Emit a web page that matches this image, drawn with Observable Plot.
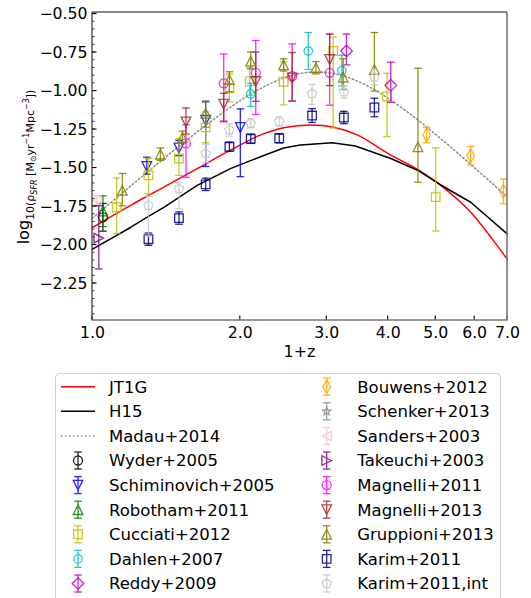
<!DOCTYPE html>
<html><head><meta charset="utf-8">
<script src="https://cdn.jsdelivr.net/npm/d3@7"></script>
<script src="https://cdn.jsdelivr.net/npm/@observablehq/plot@0.6"></script>
<style>
body{margin:0;background:#fff;font-family:"DejaVu Sans",sans-serif;}
#wrap{position:relative;width:531px;height:598px;overflow:hidden;background:#fff;}
#wrap svg{display:block;}
</style></head><body><div id="wrap"></div>
<script>
// ---- axis ticks ----
const xTicks = [1, 2, 3, 4, 5, 6, 7];
const yTicks = [-2.25, -2.0, -1.75, -1.5, -1.25, -1.0, -0.75, -0.5];

// ---- model curves: [1+z, log10 SFRD] ----
const jt1g = [[1.0,-1.886],[1.2,-1.739],[1.4,-1.622],[1.634,-1.504],[1.909,-1.384],[2.2,-1.285],[2.45,-1.238],[2.78,-1.22],[3.1,-1.235],[3.46,-1.285],[4.05,-1.416],[4.6,-1.51],[5.12,-1.613],[5.89,-1.787],[7.0,-2.095]];
const h15 = [[1.0,-2.027],[1.195,-1.886],[1.29,-1.82],[1.397,-1.755],[1.634,-1.613],[1.909,-1.504],[2.198,-1.427],[2.45,-1.37],[2.65,-1.35],[3.08,-1.336],[3.43,-1.357],[4.05,-1.438],[4.59,-1.514],[5.12,-1.61],[5.89,-1.722],[7.0,-1.929]];
const madau = [[1.0,-1.825],[1.25,-1.566],[1.5,-1.359],[1.75,-1.193],[2.0,-1.062],[2.25,-0.967],[2.5,-0.906],[2.75,-0.879],[3.0,-0.880],[3.25,-0.903],[3.5,-0.942],[3.75,-0.991],[4.0,-1.047],[4.5,-1.164],[5.0,-1.282],[5.5,-1.394],[6.0,-1.499],[6.5,-1.597],[7.0,-1.688]];

// ---- observations: [1+z, log10 SFRD, err down, err up] ----
const wyder = [[1.05,-1.82,0.09,0.09]];
const schiminovich = [[1.29,-1.49,0.05,0.06],[1.50,-1.37,0.05,0.05],[1.70,-1.19,0.30,0.12],[2.00,-1.236,0.32,0.12]];
const robotham = [[1.05,-1.78,0.10,0.10]];
const cucciati = [[1.12,-1.755,0.17,0.19],[1.30,-1.547,0.12,0.11],[1.50,-1.438,0.11,0.13],[1.70,-1.236,0.10,0.10],[1.90,-0.98,0.09,0.09],[2.09,-0.937,0.09,0.09],[2.45,-0.94,0.15,0.13],[3.09,-0.74,0.50,0.09],[3.98,-1.035,0.26,0.15],[5.0,-1.689,0.22,0.32]];
const dahlen = [[2.10,-1.02,0.08,0.07],[2.75,-0.74,0.12,0.12],[3.22,-0.867,0.10,0.10]];
const reddy = [[3.29,-0.74,0.09,0.11],[4.05,-0.963,0.11,0.15]];
const bouwens = [[4.79,-1.285,0.05,0.05],[5.89,-1.42,0.06,0.06],[6.87,-1.652,0.08,0.08]];
const schenker = [];
const sanders = [[1.02,-1.71,0.03,0.03]];
const takeuchi = [[1.03,-1.955,0.20,0.21]];
const magnelli11 = [[1.55,-1.34,0.22,0.12],[1.85,-0.95,0.25,0.19],[2.15,-0.882,0.27,0.21],[2.55,-0.904,0.16,0.21],[3.04,-0.882,0.21,0.25]];
const magnelli13 = [[1.55,-1.20,0.08,0.09],[1.85,-1.085,0.11,0.07],[2.15,-0.937,0.13,0.19],[2.55,-0.915,0.15,0.165],[3.04,-0.795,0.17,0.165]];
const gruppioni = [[1.15,-1.645,0.10,0.11],[1.375,-1.41,0.04,0.04],[1.525,-1.30,0.04,0.04],[1.70,-1.144,0.09,0.08],[1.90,-0.925,0.08,0.05],[2.10,-0.806,0.05,0.06],[2.45,-0.83,0.04,0.04],[2.85,-0.849,0.04,0.04],[3.24,-0.91,0.08,0.12],[3.75,-0.86,0.14,0.24],[4.6,-1.362,0.23,0.51]];
const karim = [[1.30,-1.962,0.04,0.04],[1.50,-1.825,0.04,0.04],[1.70,-1.606,0.04,0.04],[1.90,-1.362,0.03,0.03],[2.10,-1.31,0.03,0.03],[2.40,-1.307,0.03,0.03],[2.80,-1.159,0.045,0.045],[3.25,-1.172,0.04,0.04],[3.75,-1.107,0.06,0.06]];
const karimInt = [[1.30,-1.743,0.20,0.06],[1.50,-1.635,0.13,0.04],[1.70,-1.406,0.06,0.06],[1.90,-1.253,0.04,0.04],[2.10,-1.209,0.03,0.03],[2.40,-1.198,0.03,0.03],[2.80,-1.017,0.07,0.06],[3.25,-1.006,0.04,0.04],[3.75,-0.91,0.05,0.05]];

// ---- marker shapes ----
function poly(pts) {
  return {draw(ctx, size) {
    const r = Math.sqrt(size / Math.PI);
    ctx.moveTo(pts[0][0] * r, pts[0][1] * r);
    for (let i = 1; i < pts.length; i++) ctx.lineTo(pts[i][0] * r, pts[i][1] * r);
    ctx.closePath();
  }};
}
const pentPts = d3.range(5).map(i => [Math.sin(i * 2 * Math.PI / 5), -Math.cos(i * 2 * Math.PI / 5)]);
const starPts = d3.range(10).map(i => { const k = i % 2 ? 0.45 : 1; return [k * Math.sin(i * Math.PI / 5), -k * Math.cos(i * Math.PI / 5)]; });
const SYM = {
  circle: {draw(ctx, size) { const r = Math.sqrt(size / Math.PI); ctx.moveTo(r, 0); ctx.arc(0, 0, r, 0, 2 * Math.PI); }},
  square: poly([[-1,-1],[1,-1],[1,1],[-1,1]]),
  up: poly([[0,-1],[1,1],[-1,1]]),
  down: poly([[0,1],[1,-1],[-1,-1]]),
  left: poly([[-1,0],[1,-1],[1,1]]),
  right: poly([[1,0],[-1,-1],[-1,1]]),
  diamond: poly([[0,-1],[1,0],[0,1],[-1,0]]),
  thin: poly([[0,-1],[0.55,0],[0,1],[-0.55,0]]),
  pentagon: poly(pentPts),
  star: poly(starPts),
  cap: {draw(ctx, size) { const r = Math.sqrt(size / Math.PI); ctx.moveTo(-r, 0); ctx.lineTo(r, 0); }}
};

const series = [
  {name: "Wyder+2005", data: wyder, color: "#000000", sym: "circle", r: 4.5},
  {name: "Schiminovich+2005", data: schiminovich, color: "#0000ff", sym: "down", r: 4.8},
  {name: "Robotham+2011", data: robotham, color: "#008000", sym: "up", r: 4.8},
  {name: "Cucciati+2012", data: cucciati, color: "#bfbf00", sym: "square", r: 4.3},
  {name: "Dahlen+2007", data: dahlen, color: "#00bfbf", sym: "circle", r: 4.2},
  {name: "Reddy+2009", data: reddy, color: "#bf00bf", sym: "diamond", r: 5.8},
  {name: "Bouwens+2012", data: bouwens, color: "#ffa500", sym: "thin", r: 7},
  {name: "Schenker+2013", data: schenker, color: "#8c8c8c", sym: "star", r: 4.2},
  {name: "Sanders+2003", data: sanders, color: "#ffc0cb", sym: "left", r: 4.5},
  {name: "Takeuchi+2003", data: takeuchi, color: "#800080", sym: "right", r: 4.8},
  {name: "Magnelli+2011", data: magnelli11, color: "#ff00ff", sym: "circle", r: 4.5},
  {name: "Magnelli+2013", data: magnelli13, color: "#a52a2a", sym: "down", r: 4.8},
  {name: "Gruppioni+2013", data: gruppioni, color: "#808000", sym: "up", r: 4.8},
  {name: "Karim+2011", data: karim, color: "#000080", sym: "square", r: 4.3},
  {name: "Karim+2011,int", data: karimInt, color: "#c8c8c8", sym: "pentagon", r: 4.8}
];

const SW = 1.3, OP = 0.85;
function seriesMarks(s) {
  const d = s.data;
  return [
    Plot.ruleX(d, {x: p => p[0], y1: p => p[1] - p[2], y2: p => p[1] + p[3], stroke: s.color, strokeWidth: SW, strokeOpacity: OP}),
    Plot.dot(d, {x: p => p[0], y: p => p[1] - p[2], symbol: SYM.cap, r: 3.8, stroke: s.color, fill: "none", strokeWidth: SW, strokeOpacity: OP}),
    Plot.dot(d, {x: p => p[0], y: p => p[1] + p[3], symbol: SYM.cap, r: 3.8, stroke: s.color, fill: "none", strokeWidth: SW, strokeOpacity: OP}),
    Plot.dot(d, {x: p => p[0], y: p => p[1], symbol: SYM[s.sym], r: s.r, stroke: s.color, fill: "none", strokeWidth: SW, strokeOpacity: OP})
  ];
}

const minus = v => v.toFixed(2).replace("-", "\u2212");

const chart = Plot.plot({
  width: 531, height: 360,
  marginLeft: 92, marginRight: 24, marginTop: 12, marginBottom: 40,
  style: {fontFamily: "'DejaVu Sans', sans-serif", fontSize: "15.7px", color: "black", background: "white", overflow: "visible"},
  x: {type: "log", domain: [1, 7]},
  y: {domain: [-2.49, -0.49]},
  marks: [
    Plot.axisX({ticks: xTicks, tickSize: 0, tickPadding: 6, tickFormat: d => d.toFixed(1), label: null, fontSize: 15.7}),
    Plot.axisY({ticks: yTicks, tickSize: 0, tickPadding: 5, tickFormat: minus, label: null, fontSize: 15.7}),
    Plot.line(madau, {x: d => d[0], y: d => d[1], stroke: "#8c8c8c", strokeWidth: 1.5, strokeDasharray: "1.5,2.5", curve: "catmull-rom"}),
    Plot.line(jt1g, {x: d => d[0], y: d => d[1], stroke: "#ff0000", strokeWidth: 1.5, curve: "catmull-rom"}),
    Plot.line(h15, {x: d => d[0], y: d => d[1], stroke: "#000000", strokeWidth: 1.5}),
    ...series.flatMap(seriesMarks)
  ]
});

document.getElementById("wrap").appendChild(chart);

// ---- frame, inward ticks and labels drawn from the Plot scales ----
const svg = d3.select(chart);
const sx = chart.scale("x"), sy = chart.scale("y");
const [xl, xr] = [sx.apply(1), sx.apply(7)];
const [yb, yt] = [sy.apply(-2.49), sy.apply(-0.49)];
const g = svg.append("g");
xTicks.forEach(t => g.append("line").attr("x1", sx.apply(t)).attr("x2", sx.apply(t)).attr("y1", yb).attr("y2", yb - 4.5).attr("stroke", "#000").attr("stroke-width", 1.1));
yTicks.forEach(t => g.append("line").attr("x1", xl).attr("x2", xl + 4.5).attr("y1", sy.apply(t)).attr("y2", sy.apply(t)).attr("stroke", "#000").attr("stroke-width", 1.1));
d3.range(-2.45, -0.49, 0.05).forEach(t => {
  g.append("line").attr("x1", xl).attr("x2", xl + 2.5).attr("y1", sy.apply(t)).attr("y2", sy.apply(t)).attr("stroke", "#000").attr("stroke-width", 0.8);
});
g.append("line").attr("x1", xl).attr("x2", xr).attr("y1", yt).attr("y2", yt).attr("stroke", "#111").attr("stroke-width", 1.2);
g.append("line").attr("x1", xl).attr("x2", xl).attr("y1", yt).attr("y2", yb).attr("stroke", "#333").attr("stroke-width", 1.2);
g.append("line").attr("x1", xl - 0.6).attr("x2", xr + 0.8).attr("y1", yb).attr("y2", yb).attr("stroke", "#777").attr("stroke-width", 1.6);
g.append("line").attr("x1", xr).attr("x2", xr).attr("y1", yt).attr("y2", yb).attr("stroke", "#777").attr("stroke-width", 1.6);

svg.append("text").attr("x", (xl + xr) / 2).attr("y", 357).attr("text-anchor", "middle")
  .attr("font-family", "DejaVu Sans").attr("font-size", 16).attr("fill", "#000").text("1+z");

const yl = svg.append("text").attr("transform", "translate(29,167) rotate(-90)").attr("text-anchor", "middle")
  .attr("font-family", "DejaVu Sans").attr("font-size", 16).attr("fill", "#000");
yl.append("tspan").text("log");
yl.append("tspan").attr("font-size", 11).attr("dy", 5).text("10(\u03c1");
yl.append("tspan").attr("font-size", 8).attr("font-style", "italic").attr("dy", 2.5).text("SFR");
yl.append("tspan").attr("font-size", 11).attr("dy", -2.5).text(" [M");
yl.append("tspan").attr("font-size", 8).attr("dy", 2).text("\u2299");
yl.append("tspan").attr("font-size", 11).attr("dy", -2).text("yr");
yl.append("tspan").attr("font-size", 8).attr("dy", -5).text("\u22121");
yl.append("tspan").attr("font-size", 11).attr("dy", 5).text("Mpc");
yl.append("tspan").attr("font-size", 8).attr("dy", -5).text("\u22123");
yl.append("tspan").attr("font-size", 11).attr("dy", 5).text("])");

// ---- legend (below the plot) ----
const lineItems = [
  {name: "JT1G", color: "#ff0000", dash: null},
  {name: "H15", color: "#000000", dash: null},
  {name: "Madau+2014", color: "#8c8c8c", dash: "1.5,2.5"}
];
const leftItems = [...lineItems.map(d => ({...d, kind: "line"})), ...series.slice(0, 6).map(d => ({...d, kind: "err"}))];
const rightItems = series.slice(6).map(d => ({...d, kind: "err"}));

const leg = d3.select("#wrap").append("svg").attr("width", 531).attr("height", 238);
leg.append("rect").attr("x", 55.5).attr("y", 13.5).attr("width", 445).attr("height", 300).attr("rx", 4)
  .attr("fill", "#fff").attr("stroke", "#d0d0d0").attr("stroke-width", 1);
function drawItem(item, i, col) {
  const cy = 26.7 + i * 24.6;
  const mx = col === 0 ? 78 : 326.7;
  const tx = col === 0 ? 109 : 357.3;
  if (item.kind === "line") {
    leg.append("line").attr("x1", mx - 17).attr("x2", mx + 17).attr("y1", cy).attr("y2", cy)
      .attr("stroke", item.color).attr("stroke-width", 1.5).attr("stroke-dasharray", item.dash);
  } else {
    const gi = leg.append("g").attr("opacity", OP);
    gi.append("line").attr("x1", mx).attr("x2", mx).attr("y1", cy - 8.5).attr("y2", cy + 8.5).attr("stroke", item.color).attr("stroke-width", SW);
    [-8.5, 8.5].forEach(o => gi.append("line").attr("x1", mx - 3.8).attr("x2", mx + 3.8).attr("y1", cy + o).attr("y2", cy + o).attr("stroke", item.color).attr("stroke-width", SW));
    gi.append("path").attr("transform", `translate(${mx},${cy})`)
      .attr("d", d3.symbol().type(SYM[item.sym]).size(Math.PI * item.r * item.r)())
      .attr("fill", "none").attr("stroke", item.color).attr("stroke-width", SW);
  }
  leg.append("text").attr("x", tx).attr("y", cy).attr("dy", "0.36em").attr("font-family", "DejaVu Sans")
    .attr("font-size", 16.5).attr("fill", "#000").text(item.name);
}
leftItems.forEach((it, i) => drawItem(it, i, 0));
rightItems.forEach((it, i) => drawItem(it, i, 1));
</script></body></html>
